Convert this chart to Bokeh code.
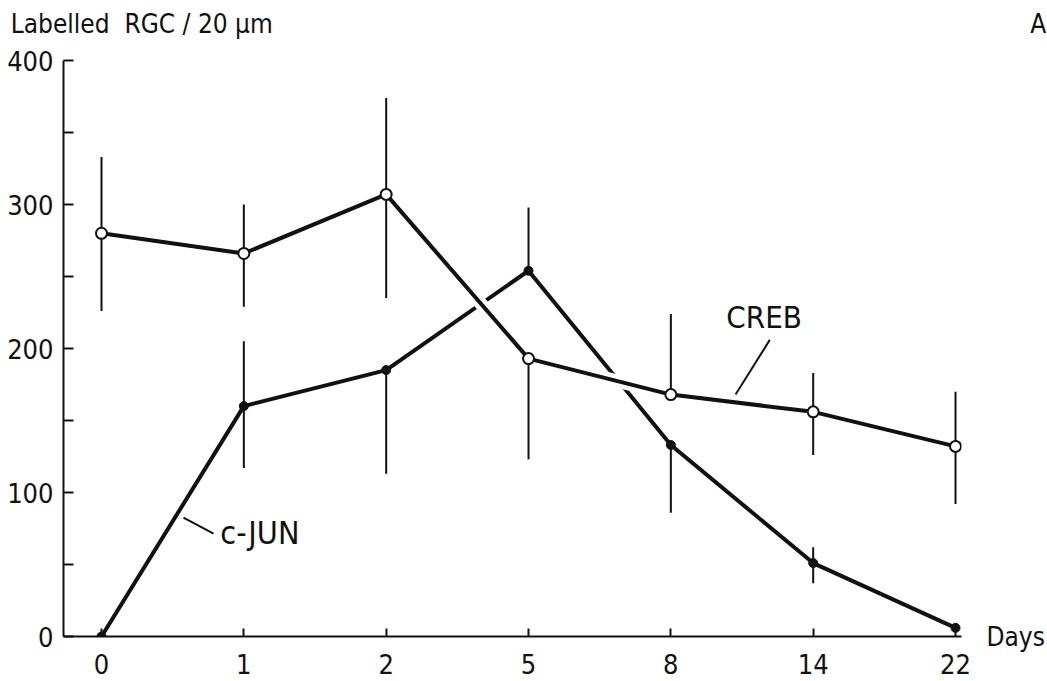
from bokeh.plotting import figure
from bokeh.models import Range1d, FixedTicker, Label, LinearAxis
from bokeh.embed import file_html
from bokeh.resources import INLINE

# ---- data ----
days = ["0", "1", "2", "5", "8", "14", "22"]
creb = [280, 266, 307, 193, 168, 156, 132]
creb_lo = [226, 229, 235, 123, 168, 126, 92]
creb_hi = [333, 300, 374, 193, 224, 183, 170]
cjun = [0, 160, 185, 254, 133, 51, 6]
cjun_lo = [0, 117, 113, 254, 86, 37, 6]
cjun_hi = [0, 205, 185, 298, 133, 62, 6]
y_major = [0, 100, 200, 300, 400]
y_minor = [50, 150, 250, 350]
y_title = "Labelled\u00a0\u00a0RGC / 20 µm"
x_title = "Days"
panel_letter = "A"

xs = list(range(len(days)))
FONT = "DejaVu Sans Condensed"
INK = "#111111"

p = figure(width=1047, height=681, output_backend="svg", toolbar_location=None,
           x_range=Range1d(-0.267, 6.042), y_range=Range1d(0, 400),
           min_border_left=63, min_border_right=86, min_border_top=60, min_border_bottom=45)
p.outline_line_color = None
p.grid.grid_line_color = None
p.background_fill_color = "white"
p.border_fill_color = "white"

# x axis
p.xaxis.ticker = FixedTicker(ticks=xs)
p.xaxis.major_label_overrides = {i: d for i, d in enumerate(days)}
p.xaxis.axis_line_width = 2
p.xaxis.axis_line_color = INK
p.xaxis.major_tick_in = 8
p.xaxis.major_tick_out = 0
p.xaxis.major_tick_line_width = 2
p.xaxis.major_tick_line_color = INK
p.xaxis.minor_tick_line_color = None
p.xaxis.major_label_text_font = FONT
p.xaxis.major_label_text_font_size = "27px"
p.xaxis.major_label_text_color = INK
p.xaxis.major_label_standoff = 17

# y axis
p.yaxis.ticker = FixedTicker(ticks=y_major, minor_ticks=y_minor)
p.yaxis.axis_line_width = 2
p.yaxis.axis_line_color = INK
p.yaxis.major_tick_in = 10
p.yaxis.major_tick_out = 0
p.yaxis.minor_tick_in = 10
p.yaxis.minor_tick_out = 0
p.yaxis.major_tick_line_width = 2
p.yaxis.minor_tick_line_width = 2
p.yaxis.major_tick_line_color = INK
p.yaxis.minor_tick_line_color = INK
p.yaxis.major_label_text_font = FONT
p.yaxis.major_label_text_font_size = "27px"
p.yaxis.major_label_text_color = INK
p.yaxis.major_label_standoff = 10

# "Days" beside the end of the x axis: a bare right-hand axis with one labelled tick at 0
right = LinearAxis(ticker=FixedTicker(ticks=[0]), major_label_overrides={0: x_title},
                   axis_line_color=None, major_tick_line_color=None, minor_tick_line_color=None,
                   major_label_standoff=19, major_label_text_font=FONT,
                   major_label_text_font_size="26px", major_label_text_color=INK)
p.add_layout(right, "right")

# y title and panel letter on one line above the frame (bare top axis, one labelled tick)
top_text = y_title + "\u00a0" * 102 + panel_letter
top = LinearAxis(ticker=FixedTicker(ticks=[3.0]),
                 major_label_overrides={3.0: top_text},
                 axis_line_color=None, major_tick_line_color=None, minor_tick_line_color=None,
                 major_label_standoff=16, major_label_text_font=FONT,
                 major_label_text_font_size="26px", major_label_text_color=INK)
p.add_layout(top, "above")

# c-JUN line first, then a white halo along CREB that breaks it at crossings
p.line(xs, cjun, line_width=4, line_color=INK)
p.line(xs, creb, line_width=13, line_color="white")

# error bars (no caps)
p.segment(x0=xs, y0=creb_lo, x1=xs, y1=creb_hi, line_width=2, line_color=INK)
p.segment(x0=xs, y0=cjun_lo, x1=xs, y1=cjun_hi, line_width=2, line_color=INK)

p.line(xs, creb, line_width=4, line_color=INK)

p.scatter(xs, cjun, size=9, marker="circle", fill_color=INK, line_color=INK)
p.scatter(xs, creb, size=11, marker="circle", fill_color="white", line_color=INK, line_width=2)

# series labels with leader lines
p.add_layout(Label(x=4.39, y=222, text="CREB", text_font=FONT, text_font_size="31px",
                   text_color=INK, text_baseline="middle", text_align="left"))
p.segment(x0=[4.695], y0=[206], x1=[4.455], y1=[168], line_width=2, line_color=INK)
p.add_layout(Label(x=0.835, y=72, text="c-JUN", text_font=FONT, text_font_size="32px",
                   text_color=INK, text_baseline="middle", text_align="left"))
p.segment(x0=[0.576], y0=[82.5], x1=[0.787], y1=[71.5], line_width=2, line_color=INK)

open("out.html", "w").write(file_html(p, INLINE))
